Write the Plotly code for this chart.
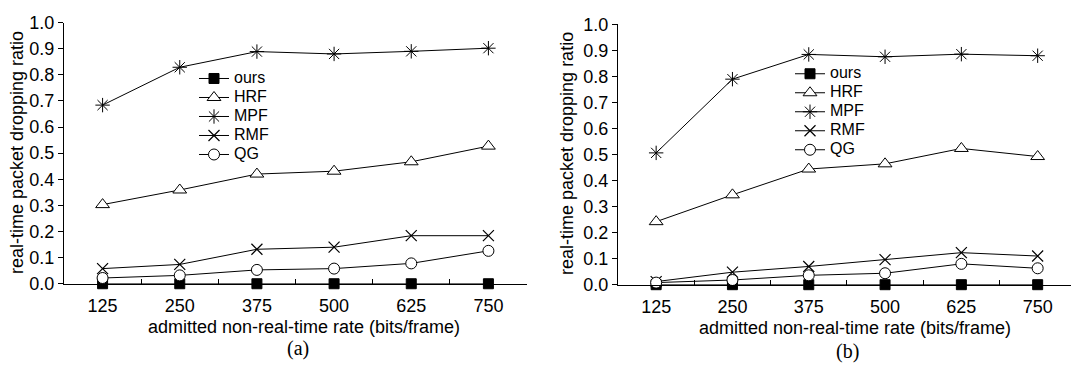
import plotly.graph_objects as go

categories = ["125", "250", "375", "500", "625", "750"]
series_names = ["ours", "HRF", "MPF", "RMF", "QG"]

# panel (a)
a_ours = [0.0, 0.0, 0.0, 0.0, 0.0, 0.0]
a_hrf = [0.303, 0.359, 0.420, 0.431, 0.467, 0.527]
a_mpf = [0.684, 0.829, 0.889, 0.880, 0.890, 0.902]
a_rmf = [0.058, 0.074, 0.132, 0.140, 0.184, 0.184]
a_qg = [0.022, 0.032, 0.053, 0.058, 0.078, 0.126]

# panel (b)
b_ours = [0.0, 0.0, 0.0, 0.0, 0.0, 0.0]
b_hrf = [0.242, 0.345, 0.444, 0.464, 0.523, 0.492]
b_mpf = [0.506, 0.789, 0.884, 0.875, 0.885, 0.879]
b_rmf = [0.012, 0.048, 0.070, 0.096, 0.123, 0.110]
b_qg = [0.008, 0.018, 0.036, 0.044, 0.080, 0.063]

y_ticks = [0.0, 0.1, 0.2, 0.3, 0.4, 0.5, 0.6, 0.7, 0.8, 0.9, 1.0]

styles = {
    "ours": dict(symbol="square", size=10, color="black", line=dict(color="black", width=1)),
    "HRF": dict(symbol="triangle-up", size=12, color="white", line=dict(color="black", width=1)),
    "MPF": dict(symbol="asterisk-open", size=12, color="black", line=dict(color="black", width=1)),
    "RMF": dict(symbol="x-thin-open", size=11, color="black", line=dict(color="black", width=1.2)),
    "QG": dict(symbol="circle", size=11, color="white", line=dict(color="black", width=1)),
}

W, H = 1071, 379
fig = go.Figure()

panels = [
    ("x", "y", "legend", [a_ours, a_hrf, a_mpf, a_rmf, a_qg]),
    ("x2", "y2", "legend2", [b_ours, b_hrf, b_mpf, b_rmf, b_qg]),
]
for xa, ya, lg, data in panels:
    for name, vals in zip(series_names, data):
        fig.add_trace(go.Scatter(
            x=categories, y=vals, name=f'<span style="font-size:16px">{name}</span>',
            mode="lines+markers",
            line=dict(color="black", width=1),
            marker=styles[name], xaxis=xa, yaxis=ya, legend=lg,
            cliponaxis=False, hovertemplate=f"{name}: %{{y}}<extra></extra>",
        ))

font = dict(family="Liberation Sans, Arial, sans-serif", size=18, color="black")
legfont = dict(family="Liberation Sans, Arial, sans-serif", size=12, color="black")

def xaxis_cfg(domain, rng):
    return dict(domain=domain, type="category", range=rng, tickson="boundaries",
                ticks="inside", ticklen=5, tickcolor="black", tickwidth=1,
                showline=True, linecolor="black", linewidth=1, showgrid=False,
                zeroline=False, tickfont=font, fixedrange=True, ticklabelstandoff=6)

def yaxis_cfg(domain, anchor):
    return dict(domain=domain, anchor=anchor, range=[0, 1], tickvals=y_ticks,
                tickformat=".1f", ticks="outside", ticklen=5, tickcolor="black",
                tickwidth=1, showline=True, linecolor="black", linewidth=1,
                showgrid=False, zeroline=False, tickfont=font, fixedrange=True)

fig.update_layout(
    width=W, height=H,
    margin=dict(l=0, r=0, t=0, b=0),
    paper_bgcolor="white", plot_bgcolor="white",
    font=font,
    xaxis=xaxis_cfg([64 / W, 527 / W], [-0.5, 5.5]) | dict(anchor="y"),
    yaxis=yaxis_cfg([(H - 289) / H, (H - 13.3) / H], "x"),
    xaxis2=xaxis_cfg([618 / W, 1.0], [-0.5, 5.437]) | dict(anchor="y2"),
    yaxis2=yaxis_cfg([(H - 290) / H, (H - 15) / H], "x2"),
    legend=dict(x=194 / W, y=(H - 57) / H, xanchor="left", yanchor="top",
                bgcolor="rgba(0,0,0,0)", borderwidth=0, font=legfont),
    legend2=dict(x=790 / W, y=(H - 52) / H, xanchor="left", yanchor="top",
                 bgcolor="rgba(0,0,0,0)", borderwidth=0, font=legfont),
    showlegend=True,
)

ann = []
ann.append(dict(text="real-time packet dropping ratio", x=17 / W, y=(H - 151) / H,
                xref="paper", yref="paper", textangle=-90, showarrow=False,
                xanchor="center", yanchor="middle", font=font))
ann.append(dict(text="real-time packet dropping ratio", x=567 / W, y=(H - 152) / H,
                xref="paper", yref="paper", textangle=-90, showarrow=False,
                xanchor="center", yanchor="middle", font=font))
ann.append(dict(text="admitted non-real-time rate (bits/frame)", x=304 / W, y=(H - 335) / H,
                xref="paper", yref="paper", showarrow=False,
                xanchor="center", yanchor="middle", font=font))
ann.append(dict(text="admitted non-real-time rate (bits/frame)", x=854.5 / W, y=(H - 336) / H,
                xref="paper", yref="paper", showarrow=False,
                xanchor="center", yanchor="middle", font=font))
serif = dict(family="Liberation Serif, Times New Roman, serif", size=20, color="black")
ann.append(dict(text="(a)", x=298 / W, y=(H - 357) / H, xref="paper", yref="paper",
                showarrow=False, xanchor="center", yanchor="middle", font=serif))
ann.append(dict(text="(b)", x=847 / W, y=(H - 361) / H, xref="paper", yref="paper",
                showarrow=False, xanchor="center", yanchor="middle", font=serif))
fig.update_layout(annotations=ann)

fig.write_html("out.html", config={"displayModeBar": False})
